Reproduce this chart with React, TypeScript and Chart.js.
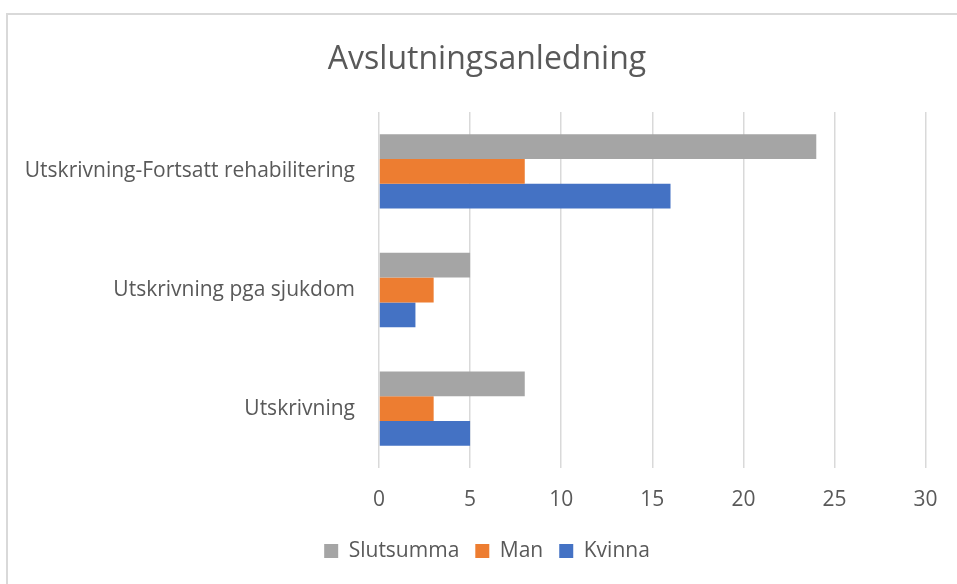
import React, { useEffect, useRef } from "react";
import { Chart, registerables } from "chart.js";

Chart.register(...registerables);

const categories = [
  "Utskrivning-Fortsatt rehabilitering",
  "Utskrivning pga sjukdom",
  "Utskrivning",
];
const seriesNames = ["Slutsumma", "Man", "Kvinna"];
const slutsumma = [24, 5, 8];
const man = [8, 3, 3];
const kvinna = [16, 2, 5];
const titleText = "Avslutningsanledning";

const FONT = "'Open Sans', sans-serif";
const TEXT = "#595959";

const shiftBlocks = {
  id: "shiftBlocks",
  afterLayout(chart: any) {
    if (chart.titleBlock) chart.titleBlock.left = 48;
    if (chart.legend) chart.legend.left = 48;
  },
};

export default function App() {
  const ref = useRef<HTMLCanvasElement | null>(null);
  useEffect(() => {
    if (!ref.current) return;
    const chart = new Chart(ref.current, {
      type: "bar",
      data: {
        labels: categories,
        datasets: [
          { label: seriesNames[0], data: slutsumma, backgroundColor: "#A5A5A5" },
          { label: seriesNames[1], data: man, backgroundColor: "#ED7D31" },
          { label: seriesNames[2], data: kvinna, backgroundColor: "#4472C4" },
        ],
      },
      plugins: [shiftBlocks],
      options: {
        indexAxis: "y",
        responsive: false,
        animation: false,
        devicePixelRatio: 1,
        datasets: { bar: { categoryPercentage: 0.627, barPercentage: 1 } },
        layout: { padding: { top: 20, bottom: 12.5, left: 0, right: 31 } },
        plugins: {
          title: {
            display: true,
            text: titleText,
            color: TEXT,
            font: { family: FONT, size: 32, weight: "normal" },
            padding: { top: 20.8, bottom: 32.8 },
          },
          legend: {
            position: "bottom",
            labels: {
              color: TEXT,
              font: { family: FONT, size: 21 },
              boxWidth: 14,
              boxHeight: 14,
              padding: 16,
            },
          },
          tooltip: { enabled: false },
        },
        scales: {
          x: {
            min: 0,
            max: 30,
            ticks: { stepSize: 5, color: TEXT, font: { family: FONT, size: 21 }, padding: 19.4 },
            grid: { color: "#D9D9D9", lineWidth: 1.5, drawTicks: false },
            border: { display: false },
            afterFit: (s: any) => { s.height = 56.5; },
          },
          y: {
            ticks: { color: TEXT, font: { family: FONT, size: 21 }, padding: 24 },
            grid: { display: false, drawTicks: false },
            border: { display: false },
            afterFit: (s: any) => { s.width = 379; },
          },
        },
      },
    });
    return () => chart.destroy();
  }, []);
  return (
    <div style={{ position: "fixed", left: 0, top: 0, width: 957, height: 584, background: "#fff", overflow: "hidden" }}>
      <div style={{ position: "absolute", left: 6, top: 13, width: 1000, height: 1000, borderLeft: "2px solid #D9D9D9", borderTop: "2px solid #D9D9D9" }} />
      <canvas ref={ref} width={957} height={584} style={{ position: "absolute", left: 0, top: 0 }} />
    </div>
  );
}
